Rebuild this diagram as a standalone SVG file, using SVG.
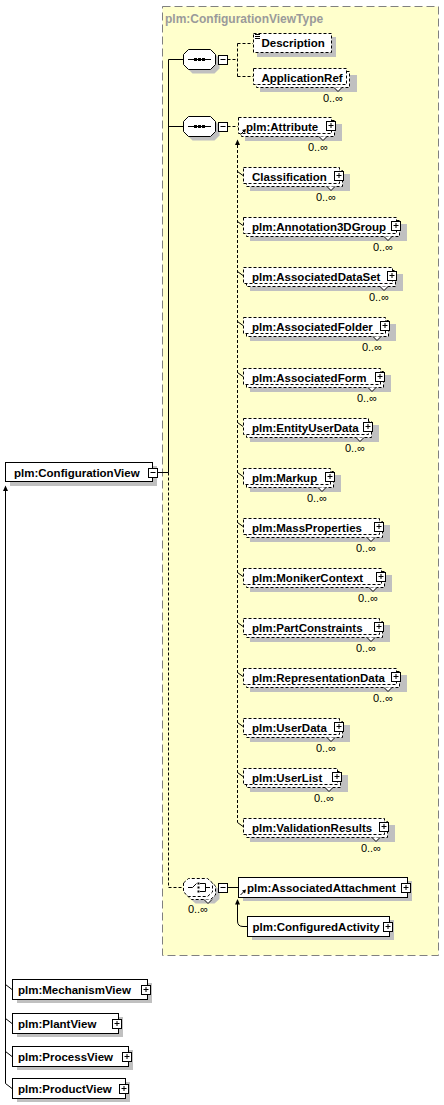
<svg xmlns="http://www.w3.org/2000/svg" xmlns:xlink="http://www.w3.org/1999/xlink" width="444" height="1105" viewBox="0 0 444 1105">
<style>
.b{fill:#fff;stroke:#000;stroke-width:1}
.o{stroke-dasharray:3,2}
.sh{fill:#c0c0c0}
.ln{fill:none;stroke:#000;stroke-width:1}
.d{stroke-dasharray:3,2}
.v{fill:#fff;stroke:#000;stroke-width:1}
.t{font-family:"Liberation Sans",Arial,sans-serif;font-weight:bold;font-size:11.5px;fill:#000}
.oc{font-family:"Liberation Sans",Arial,sans-serif;font-size:11px;fill:#000;text-anchor:end}
.ti{font-family:"Liberation Sans",Arial,sans-serif;font-weight:bold;font-size:12px;fill:#9a9a9a}
</style>
<defs>
<g id="plus"><rect class="b" x="-4" y="-4" width="9" height="9"/><path class="ln" d="M-2,0H3M0.5,-2.5V2.5"/></g>
<g id="minus"><rect class="b" x="-4" y="-4" width="9" height="9"/><path class="ln" d="M-2,0H3"/></g>
<g id="seq"><polygon class="sh" points="4,-1 9,-6 31,-6 36,-1 36,9 31,14 9,14 4,9"/><polygon class="b" points="0,-5 5,-10 27,-10 32,-5 32,5 27,10 5,10 0,5"/><path class="ln" d="M4.5,0H27.5"/><rect x="10.5" y="-1.5" width="3" height="3"/><rect x="14.5" y="-1.5" width="3" height="3"/><rect x="18.5" y="-1.5" width="3" height="3"/></g>
<g id="refarr"><path class="ln" d="M0,5L4,1"/><polygon points="5.5,-0.5 1.5,0.5 4.5,3.5"/></g>
</defs>

<g id="container">
<rect x="162.5" y="6.5" width="276" height="949" fill="#ffffcc" stroke="#808080" stroke-dasharray="8,4"/>
<text class="ti" x="165" y="22.5">plm:ConfigurationViewType</text>
</g>

<g id="connectors">
<path class="ln" d="M156.5,472.5H168.5M168.5,59.5V472.5M168.5,59.5H183.5M168.5,126.5H183.5M215.5,59.5H218.5M215.5,126.5H218.5"/>
<path class="ln d" d="M168.5,472.5V887.5H183.5"/>
<path class="ln d" d="M227.5,59.5H237.5M237.5,43.5V76.5M237.5,43.5H253M237.5,76.5H253"/>
<path class="ln d" d="M227.5,126.5H238M237.5,145V822.5"/>
<polygon points="237.5,139.5 235,145 240,145"/>
<path class="ln" d="M237.5,171.5L243,175.5M237.5,221.5L243,225.5M237.5,271.5L243,275.5M237.5,321.5L243,325.5M237.5,372.5L243,376.5M237.5,422.5L243,426.5M237.5,472.5L243,476.5M237.5,522.5L243,526.5M237.5,572.5L243,576.5M237.5,622.5L243,626.5M237.5,672.5L243,676.5M237.5,722.5L243,726.5M237.5,772.5L243,776.5M237.5,822.5L243,826.5"/>
<path class="ln" d="M227.5,887.5H238.5M237.5,904V921Q237.5,926.5 243,926.5H247.5"/>
<polygon points="237.5,899 235,904.5 240,904.5"/>
<path class="ln" d="M5.5,490V1083.5L12,1088.5M5.5,984.5L12,989.5M5.5,1018.5L12,1023.5M5.5,1051.5L12,1056.5"/>
<polygon points="5.5,485.5 3,491 8,491"/>
</g>

<g id="ConfigurationView">
<rect class="sh" x="10" y="466" width="147" height="20"/>
<rect class="b" x="5.5" y="462.5" width="147" height="19"/>
<text class="t" x="14" y="476.5">plm:ConfigurationView</text>
<use xlink:href="#minus" x="152.5" y="472.5"/>
</g>

<g id="sequence1">
<use xlink:href="#seq" x="183.5" y="59.5"/>
<use xlink:href="#minus" x="222.5" y="59.5"/>
</g>
<g id="sequence2">
<use xlink:href="#seq" x="183.5" y="126.5"/>
<use xlink:href="#minus" x="222.5" y="126.5"/>
</g>

<g id="Description">
<rect class="sh" x="257" y="37" width="79" height="20"/>
<rect class="b o" x="253.5" y="33.5" width="78" height="19"/>
<path class="ln" d="M255,34.5H260M255,36.5H260M255,38.5H260"/>
<text class="t" x="261.5" y="47">Description</text>
</g>

<g id="ApplicationRef">
<rect class="sh" x="260" y="75" width="97" height="17"/>
<rect class="b o" x="256.5" y="71.5" width="93" height="16"/>
<rect class="b o" x="253.5" y="68.5" width="93" height="16"/>
<path class="v" d="M334,87.5l4,4l4,-4"/>
<text class="t" x="261.5" y="81.5">ApplicationRef</text>
<text class="oc" x="343" y="102">0..∞</text>
</g>

<g id="Attribute">
<rect class="sh" x="245" y="124" width="97" height="17"/>
<rect class="b o" x="241.5" y="120.5" width="93" height="16"/>
<rect class="b o" x="238.5" y="117.5" width="93" height="16"/>
<path class="v" d="M319,136.5l4,4l4,-4"/>
<use xlink:href="#refarr" x="240.5" y="129.5"/>
<text class="t" x="246" y="130.5">plm:Attribute</text>
<use xlink:href="#plus" x="330.5" y="125.5"/>
<text class="oc" x="328" y="151">0..∞</text>
</g>

<g id="Classification">
<rect class="sh" x="250" y="174" width="100" height="17"/>
<rect class="b o" x="246.5" y="170.5" width="96" height="16"/>
<rect class="b o" x="243.5" y="167.5" width="96" height="16"/>
<path class="v" d="M327,186.5l4,4l4,-4"/>
<text class="t" x="252" y="180.5">Classification</text>
<use xlink:href="#plus" x="338.5" y="175.5"/>
<text class="oc" x="336" y="201">0..∞</text>
</g>

<g id="Annotation3DGroup">
<rect class="sh" x="250" y="224" width="157" height="17"/>
<rect class="b o" x="246.5" y="220.5" width="153" height="16"/>
<rect class="b o" x="243.5" y="217.5" width="153" height="16"/>
<path class="v" d="M384,236.5l4,4l4,-4"/>
<text class="t" x="252" y="230.5">plm:Annotation3DGroup</text>
<use xlink:href="#plus" x="395.5" y="225.5"/>
<text class="oc" x="393" y="251">0..∞</text>
</g>

<g id="AssociatedDataSet">
<rect class="sh" x="250" y="274" width="153" height="17"/>
<rect class="b o" x="246.5" y="270.5" width="149" height="16"/>
<rect class="b o" x="243.5" y="267.5" width="149" height="16"/>
<path class="v" d="M380,286.5l4,4l4,-4"/>
<text class="t" x="252" y="280.5">plm:AssociatedDataSet</text>
<use xlink:href="#plus" x="391.5" y="275.5"/>
<text class="oc" x="389" y="301">0..∞</text>
</g>

<g id="AssociatedFolder">
<rect class="sh" x="250" y="324" width="146" height="17"/>
<rect class="b o" x="246.5" y="320.5" width="142" height="16"/>
<rect class="b o" x="243.5" y="317.5" width="142" height="16"/>
<path class="v" d="M373,336.5l4,4l4,-4"/>
<text class="t" x="252" y="330.5">plm:AssociatedFolder</text>
<use xlink:href="#plus" x="384.5" y="325.5"/>
<text class="oc" x="382" y="351">0..∞</text>
</g>

<g id="AssociatedForm">
<rect class="sh" x="250" y="375" width="141" height="17"/>
<rect class="b o" x="246.5" y="371.5" width="137" height="16"/>
<rect class="b o" x="243.5" y="368.5" width="137" height="16"/>
<path class="v" d="M368,387.5l4,4l4,-4"/>
<text class="t" x="252" y="381.5">plm:AssociatedForm</text>
<use xlink:href="#plus" x="379.5" y="376.5"/>
<text class="oc" x="377" y="402">0..∞</text>
</g>

<g id="EntityUserData">
<rect class="sh" x="250" y="425" width="129" height="17"/>
<rect class="b o" x="246.5" y="421.5" width="125" height="16"/>
<rect class="b o" x="243.5" y="418.5" width="125" height="16"/>
<path class="v" d="M356,437.5l4,4l4,-4"/>
<text class="t" x="252" y="431.5">plm:EntityUserData</text>
<use xlink:href="#plus" x="367.5" y="426.5"/>
<text class="oc" x="365" y="452">0..∞</text>
</g>

<g id="Markup">
<rect class="sh" x="250" y="475" width="91" height="17"/>
<rect class="b o" x="246.5" y="471.5" width="87" height="16"/>
<rect class="b o" x="243.5" y="468.5" width="87" height="16"/>
<path class="v" d="M318,487.5l4,4l4,-4"/>
<text class="t" x="252" y="481.5">plm:Markup</text>
<use xlink:href="#plus" x="329.5" y="476.5"/>
<text class="oc" x="327" y="502">0..∞</text>
</g>

<g id="MassProperties">
<rect class="sh" x="250" y="525" width="140" height="17"/>
<rect class="b o" x="246.5" y="521.5" width="136" height="16"/>
<rect class="b o" x="243.5" y="518.5" width="136" height="16"/>
<path class="v" d="M367,537.5l4,4l4,-4"/>
<text class="t" x="252" y="531.5">plm:MassProperties</text>
<use xlink:href="#plus" x="378.5" y="526.5"/>
<text class="oc" x="376" y="552">0..∞</text>
</g>

<g id="MonikerContext">
<rect class="sh" x="250" y="575" width="142" height="17"/>
<rect class="b o" x="246.5" y="571.5" width="138" height="16"/>
<rect class="b o" x="243.5" y="568.5" width="138" height="16"/>
<path class="v" d="M369,587.5l4,4l4,-4"/>
<text class="t" x="252" y="581.5">plm:MonikerContext</text>
<use xlink:href="#plus" x="380.5" y="576.5"/>
<text class="oc" x="378" y="602">0..∞</text>
</g>

<g id="PartConstraints">
<rect class="sh" x="250" y="625" width="140" height="17"/>
<rect class="b o" x="246.5" y="621.5" width="136" height="16"/>
<rect class="b o" x="243.5" y="618.5" width="136" height="16"/>
<path class="v" d="M367,637.5l4,4l4,-4"/>
<text class="t" x="252" y="631.5">plm:PartConstraints</text>
<use xlink:href="#plus" x="378.5" y="626.5"/>
<text class="oc" x="376" y="652">0..∞</text>
</g>

<g id="RepresentationData">
<rect class="sh" x="250" y="675" width="157" height="17"/>
<rect class="b o" x="246.5" y="671.5" width="153" height="16"/>
<rect class="b o" x="243.5" y="668.5" width="153" height="16"/>
<path class="v" d="M384,687.5l4,4l4,-4"/>
<text class="t" x="252" y="681.5">plm:RepresentationData</text>
<use xlink:href="#plus" x="395.5" y="676.5"/>
<text class="oc" x="393" y="702">0..∞</text>
</g>

<g id="UserData">
<rect class="sh" x="250" y="725" width="100" height="17"/>
<rect class="b o" x="246.5" y="721.5" width="96" height="16"/>
<rect class="b o" x="243.5" y="718.5" width="96" height="16"/>
<path class="v" d="M327,737.5l4,4l4,-4"/>
<text class="t" x="252" y="731.5">plm:UserData</text>
<use xlink:href="#plus" x="338.5" y="726.5"/>
<text class="oc" x="336" y="752">0..∞</text>
</g>

<g id="UserList">
<rect class="sh" x="250" y="775" width="98" height="17"/>
<rect class="b o" x="246.5" y="771.5" width="94" height="16"/>
<rect class="b o" x="243.5" y="768.5" width="94" height="16"/>
<path class="v" d="M325,787.5l4,4l4,-4"/>
<text class="t" x="252" y="781.5">plm:UserList</text>
<use xlink:href="#plus" x="336.5" y="776.5"/>
<text class="oc" x="334" y="802">0..∞</text>
</g>

<g id="ValidationResults">
<rect class="sh" x="250" y="825" width="145" height="17"/>
<rect class="b o" x="246.5" y="821.5" width="141" height="16"/>
<rect class="b o" x="243.5" y="818.5" width="141" height="16"/>
<path class="v" d="M372,837.5l4,4l4,-4"/>
<text class="t" x="252" y="831.5">plm:ValidationResults</text>
<use xlink:href="#plus" x="383.5" y="826.5"/>
<text class="oc" x="381" y="852">0..∞</text>
</g>

<g id="choice">
<polygon class="sh" points="190.5,890 195.5,885.5 214.5,885.5 219.5,890 219.5,899 214.5,903.5 195.5,903.5 190.5,899"/>
<polygon class="b o" points="186.5,886 191.5,881.5 210.5,881.5 215.5,886 215.5,895 210.5,899.5 191.5,899.5 186.5,895"/>
<polygon class="b o" points="183.5,883 188.5,878.5 207.5,878.5 212.5,883 212.5,892 207.5,896.5 188.5,896.5 183.5,892"/>
<path class="v" d="M204,899.5l4,4l4,-4"/>
<path class="ln" d="M188,887.5H192.5L196.5,883.5M200,883.5H205.5V891.5H200M205.5,887.5H210"/>
<rect x="197.5" y="882.5" width="2" height="2"/>
<rect x="197.5" y="886.5" width="2" height="2"/>
<rect x="197.5" y="890.5" width="2" height="2"/>
<use xlink:href="#minus" x="222.5" y="887.5"/>
<text class="oc" x="208" y="913">0..∞</text>
</g>

<g id="AssociatedAttachment">
<rect class="sh" x="243" y="881" width="169" height="20"/>
<rect class="b" x="238.5" y="877.5" width="169" height="20"/>
<use xlink:href="#refarr" x="240.5" y="890"/>
<text class="t" x="247" y="891.5">plm:AssociatedAttachment</text>
<use xlink:href="#plus" x="405.5" y="887.5"/>
</g>

<g id="ConfiguredActivity">
<rect class="sh" x="252" y="920" width="142" height="20"/>
<rect class="b" x="247.5" y="916.5" width="142" height="20"/>
<text class="t" x="252.5" y="930.5">plm:ConfiguredActivity</text>
<use xlink:href="#plus" x="387.5" y="926.5"/>
</g>

<g id="MechanismView">
<rect class="sh" x="17" y="983" width="135" height="20"/>
<rect class="b" x="12.5" y="979.5" width="135" height="20"/>
<text class="t" x="18" y="993.5">plm:MechanismView</text>
<use xlink:href="#plus" x="145.5" y="989.5"/>
</g>

<g id="PlantView">
<rect class="sh" x="17" y="1017" width="106" height="20"/>
<rect class="b" x="12.5" y="1013.5" width="106" height="20"/>
<text class="t" x="18" y="1027.5">plm:PlantView</text>
<use xlink:href="#plus" x="116.5" y="1023.5"/>
</g>

<g id="ProcessView">
<rect class="sh" x="17" y="1050" width="116" height="20"/>
<rect class="b" x="12.5" y="1046.5" width="116" height="20"/>
<text class="t" x="18" y="1060.5">plm:ProcessView</text>
<use xlink:href="#plus" x="126.5" y="1056.5"/>
</g>

<g id="ProductView">
<rect class="sh" x="17" y="1082" width="113" height="20"/>
<rect class="b" x="12.5" y="1078.5" width="113" height="20"/>
<text class="t" x="18" y="1092.5">plm:ProductView</text>
<use xlink:href="#plus" x="123.5" y="1088.5"/>
</g>
</svg>
